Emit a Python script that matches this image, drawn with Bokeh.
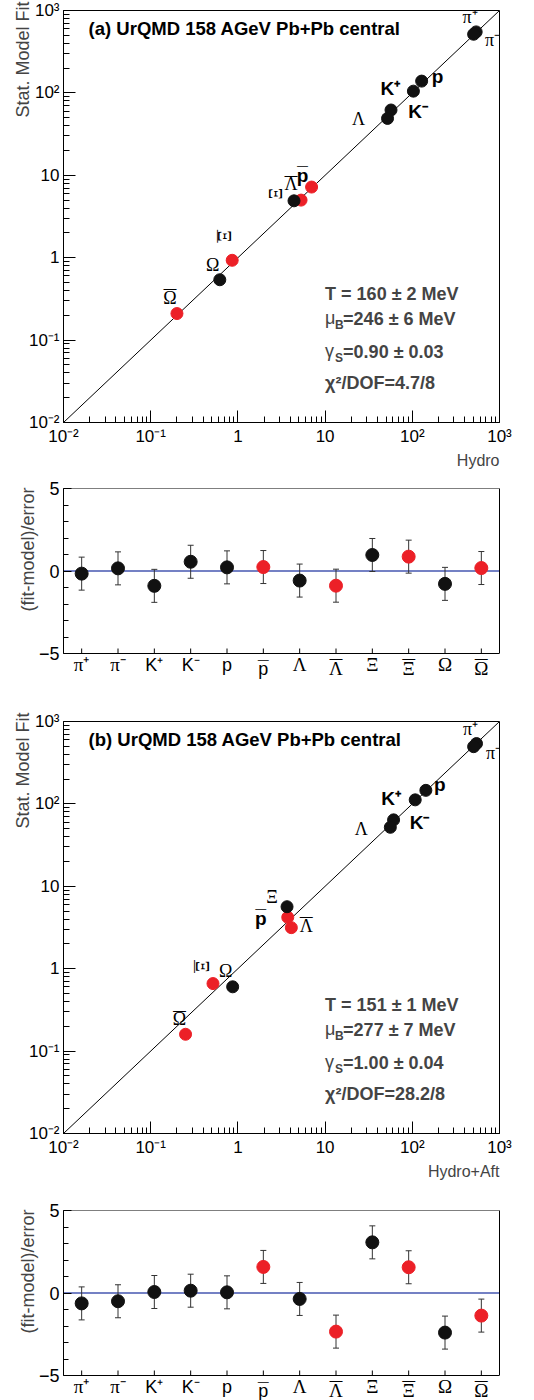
import math
from bokeh.plotting import figure
from bokeh.models import (FixedTicker, Label, Title, ColumnDataSource, FactorRange, Span,
                          LinearAxis)
from bokeh.layouts import column
from bokeh.embed import file_html
from bokeh.resources import INLINE

# ---------------- data ----------------
categories = ["π⁺", "π⁻", "K⁺", "K⁻", "p", "p̅", "Λ", "Λ̅", "Ξ", "Ξ̅", "Ω", "Ω̅"]
antiparticle = [False, False, False, False, False, True, False, True, False, True, False, True]

hydro_a = [540, 505, 103, 57, 128, 7.0, 52, 5.3, 4.4, 0.86, 0.62, 0.20]
fit_a = [550, 515, 105, 62, 139, 7.2, 49, 5.0, 4.9, 0.93, 0.54, 0.21]
hydro_b = [545, 505, 108, 61, 143, 3.73, 56, 4.1, 3.66, 0.518, 0.871, 0.251]
fit_b = [540, 495, 112, 64, 146, 4.2, 52, 3.15, 5.65, 0.66, 0.603, 0.16]

resid_a = [-0.16, 0.16, -0.90, 0.56, 0.22, 0.24, -0.58, -0.89, 0.97, 0.87, -0.78, 0.18]
err_a = [1.0, 1.0, 1.0, 1.0, 1.0, 1.0, 1.0, 1.0, 1.0, 1.0, 1.0, 1.0]
resid_b = [-0.63, -0.50, 0.06, 0.14, 0.04, 1.58, -0.36, -2.34, 3.07, 1.56, -2.40, -1.37]
err_b = [1.0, 1.0, 1.0, 1.0, 1.0, 1.0, 1.0, 1.0, 1.0, 1.0, 1.0, 1.0]

titles = ["(a) UrQMD 158 AGeV Pb+Pb central", "(b) UrQMD 158 AGeV Pb+Pb central"]
xlabels = ["Hydro", "Hydro+Aft"]
T_text = ["T = 160 ± 2 MeV", "T = 151 ± 1 MeV"]
muB_text = ["=246 ± 6 MeV", "=277 ± 7 MeV"]
gS_text = ["=0.90 ± 0.03", "=1.00 ± 0.04"]
chi_text = ["χ²/DOF=4.7/8", "χ²/DOF=28.2/8"]

log_ticks = [0.01, 0.1, 1, 10, 100, 1000]
log_tick_labels = ["10⁻²", "10⁻¹", "1", "10", "10²", "10³"]
resid_ticks = [-5, 0, 5]

# ---------------- styling ----------------
RED = "#ec2027"
BLACK = "#111111"
BLUE = "#4657b0"
SANS = "Liberation Sans"
SERIF = "Liberation Serif"
OVER = "\u0305"
BAR = "\u2014"

base_text = [c.replace(OVER, "") for c in categories]
has_bar = [OVER in c for c in categories]
is_greek = [c[0] in "πΛΞΩ" for c in base_text]

lab_font = [SERIF if g else SANS for g in is_greek]
lab_style = ["normal" if g else "bold" for g in is_greek]
lab_size = ["18px" if g else "19px" for g in is_greek]
bar_size = ["13px" if g else "11px" for g in is_greek]
bar_lift = [9 if g else 10 for g in is_greek]

# pixel offsets (right, up) and rotations of point labels
off_a = [(-6, 15), (19, -6), (-23, 3), (27, -1), (16, 5), (-9, 12), (-29, -1), (-10, 16), (-18, 7), (-7, 24), (-7, 15), (-7, 16)]
rot_a = [0, 0, 0, 0, 0, 0, 0, 0, math.pi / 2, math.pi / 2, 0, 0]
off_b = [(-6, 15), (20, -6), (-24, 1), (26, -3), (14, 6), (-27, -1), (-29, -2), (15, 2), (-15, 10), (-10, 17), (-7, 16), (-6, 15)]
rot_b = [0, 0, 0, 0, 0, 0, 0, 0, 0, math.pi / 2, 0, 0]

colors = [RED if a else BLACK for a in antiparticle]
minor_log = [k * 10.0 ** e for e in range(-2, 3) for k in range(2, 10)]

RESID_FRAME_PX = 165  # pixel height of the -5..5 residual frame


def make_title(text, side_size, standoff, offset):
    try:
        return Title(text=text, align="right", text_font=SANS, text_font_style="normal",
                     text_font_size=side_size, standoff=standoff, offset=offset)
    except Exception:
        return Title(text=text, align="right", text_font=SANS, text_font_style="normal",
                     text_font_size=side_size, standoff=0, offset=0)


def style_axis(ax):
    ax.axis_line_color = "black"
    ax.major_tick_line_color = "black"
    ax.minor_tick_line_color = "black"
    ax.major_tick_out = 0
    ax.minor_tick_out = 0
    ax.major_label_text_font = SANS
    ax.major_label_text_font_size = "17px"
    ax.major_label_text_color = "black"
    ax.major_label_standoff = 4


def style_common(p):
    p.xgrid.visible = False
    p.ygrid.visible = False
    p.background_fill_color = "white"
    p.border_fill_color = "white"
    for ax in list(p.xaxis) + list(p.yaxis):
        style_axis(ax)


def scatter_panel(idx, hx, fy, offs, rots, min_top, height, min_bottom):
    p = figure(width=534, height=height, x_axis_type="log", y_axis_type="log",
               x_range=(log_ticks[0], log_ticks[-1]), y_range=(log_ticks[0], log_ticks[-1]),
               output_backend="svg", toolbar_location=None,
               min_border_left=63, min_border_right=35, min_border_top=min_top,
               min_border_bottom=min_bottom)
    style_common(p)
    p.outline_line_color = "black"
    for ax in (p.xaxis[0], p.yaxis[0]):
        ax.ticker = FixedTicker(ticks=log_ticks, minor_ticks=minor_log)
        ax.major_label_overrides = {t: l for t, l in zip(log_ticks, log_tick_labels)}
        ax.major_tick_in = 12
        ax.minor_tick_in = 6
    p.line([log_ticks[0], log_ticks[-1]], [log_ticks[0], log_ticks[-1]], line_color="black", line_width=1)
    p.scatter(hx, fy, size=12, color=colors, line_color=colors)
    src = ColumnDataSource(dict(
        x=hx, y=fy, text=base_text,
        xo=[o[0] for o in offs], yo=[-o[1] for o in offs],
        font=lab_font, style=lab_style, size=lab_size, angle=rots))
    p.text(x="x", y="y", text="text", x_offset="xo", y_offset="yo", angle="angle",
           text_font="font", text_font_style="style", text_font_size="size",
           text_align="center", text_baseline="middle", text_color="black", source=src)
    # overline bars for antiparticle labels
    bx, by, bxo, byo, bsz, bang = [], [], [], [], [], []
    for i in range(len(categories)):
        if not has_bar[i]:
            continue
        bx.append(hx[i]); by.append(fy[i]); bsz.append(bar_size[i]); bang.append(rots[i])
        if rots[i]:
            bxo.append(offs[i][0] - bar_lift[i]); byo.append(-offs[i][1])
        else:
            bxo.append(offs[i][0]); byo.append(-offs[i][1] - bar_lift[i])
    bsrc = ColumnDataSource(dict(x=bx, y=by, xo=bxo, yo=byo, size=bsz, angle=bang, text=[BAR] * len(bx)))
    p.text(x="x", y="y", text="text", x_offset="xo", y_offset="yo", angle="angle",
           text_font_size="size", text_align="center", text_baseline="middle",
           text_color="black", source=bsrc)
    # title inside frame
    p.add_layout(Label(x=0.0194, y=600, text=titles[idx], text_font=SANS, text_font_style="bold",
                       text_font_size="18.5px", text_baseline="middle", text_color="black"))
    # fit parameter block
    x0 = 10
    ys = [0.365, 0.182, 0.071, 0.0298]
    p.add_layout(Label(x=x0, y=ys[0], text=T_text[idx], text_font=SANS, text_font_style="bold",
                       text_font_size="18px", text_baseline="middle"))
    p.add_layout(Label(x=x0, y=ys[1], text="μ", text_font=SANS, text_font_size="18px",
                       text_baseline="middle", y_offset=1))
    p.add_layout(Label(x=x0, y=ys[1], x_offset=10, y_offset=-6, text="B", text_font=SANS,
                       text_font_style="bold", text_font_size="12px", text_baseline="middle"))
    p.add_layout(Label(x=x0, y=ys[1], x_offset=18, text=muB_text[idx], text_font=SANS,
                       text_font_style="bold", text_font_size="18px", text_baseline="middle"))
    p.add_layout(Label(x=x0, y=ys[2], text="γ", text_font=SANS, text_font_size="18px",
                       text_baseline="middle", y_offset=1))
    p.add_layout(Label(x=x0, y=ys[2], x_offset=10, y_offset=-6, text="S", text_font=SANS,
                       text_font_style="bold", text_font_size="12px", text_baseline="middle"))
    p.add_layout(Label(x=x0, y=ys[2], x_offset=18, text=gS_text[idx], text_font=SANS,
                       text_font_style="bold", text_font_size="18px", text_baseline="middle"))
    p.add_layout(Label(x=x0, y=ys[3], text=chi_text[idx], text_font=SANS, text_font_style="bold",
                       text_font_size="18px", text_baseline="middle"))
    p.add_layout(make_title(xlabels[idx], "16px", 2, 0), "below")
    p.add_layout(make_title("Stat. Model Fit", "18px", -14, -9), "left")
    return p


def resid_panel(res, err, min_top, height):
    lo_lim, hi_lim = resid_ticks[0], resid_ticks[-1]
    frame_px = height - min_top
    units = (hi_lim - lo_lim) * frame_px / RESID_FRAME_PX
    p = figure(width=534, height=height, x_range=FactorRange(*categories),
               y_range=(hi_lim - units, hi_lim), x_axis_location=None,
               output_backend="svg", toolbar_location=None,
               min_border_left=63, min_border_right=35, min_border_top=min_top,
               min_border_bottom=0)
    style_common(p)
    p.outline_line_color = None
    yax = p.yaxis[0]
    yax.ticker = FixedTicker(ticks=resid_ticks, minor_ticks=list(range(lo_lim, hi_lim + 1)))
    yax.bounds = (lo_lim, hi_lim)
    yax.major_tick_in = 8
    yax.minor_tick_in = 5
    yax.major_label_text_font_size = "18px"
    # right, top and bottom frame edges
    rax = LinearAxis(ticker=FixedTicker(ticks=[]), bounds=(lo_lim, hi_lim), major_tick_in=0,
                     major_tick_out=0, minor_tick_in=0, minor_tick_out=0, axis_line_color="black")
    p.add_layout(rax, "right")
    p.add_layout(Span(location=hi_lim, dimension="width", line_color="black", line_width=1))
    p.add_layout(Span(location=lo_lim, dimension="width", line_color="black", line_width=1))
    # inward category ticks on the bottom edge
    p.ray(x=categories, y=[lo_lim] * len(categories), length=5, length_units="screen",
          angle=math.pi / 2, line_color="black", line_width=1)
    span = Span(location=0, dimension="width", line_color=BLUE, line_width=1.3, level="underlay")
    p.add_layout(span)
    lo = [r - e for r, e in zip(res, err)]
    hi = [r + e for r, e in zip(res, err)]
    p.segment(x0=categories, y0=lo, x1=categories, y1=hi, line_color="#333333", line_width=1)
    p.scatter(x=categories, y=lo, marker="dash", size=6, line_color="#333333", line_width=1)
    p.scatter(x=categories, y=hi, marker="dash", size=6, line_color="#333333", line_width=1)
    p.scatter(x=categories, y=res, size=13, color=colors, line_color=colors)
    # category labels (serif Greek, sans Latin) with overline bars for antiparticles
    src = ColumnDataSource(dict(
        x=categories, y=[lo_lim] * len(categories), text=base_text,
        yo=[15 if b else 11 for b in has_bar],
        font=lab_font, size=["19px" if g else "18px" for g in is_greek]))
    p.text(x="x", y="y", text="text", y_offset="yo", source=src,
           text_font="font", text_font_size="size", text_align="center",
           text_baseline="middle", text_color="black")
    bcats = [c for c, b in zip(categories, has_bar) if b]
    bsz = [sz for sz, b in zip(bar_size, has_bar) if b]
    bsrc = ColumnDataSource(dict(x=bcats, y=[lo_lim] * len(bcats), text=[BAR] * len(bcats), size=bsz))
    p.text(x="x", y="y", text="text", y_offset=5, source=bsrc,
           text_font_size="size", text_align="center", text_baseline="middle",
           text_color="black")
    p.add_layout(make_title("(fit-model)/error", "18px", -5, -1), "left")
    return p


p1 = scatter_panel(0, hydro_a, fit_a, off_a, rot_a, 10, 470, 48)
p2 = resid_panel(resid_a, err_a, 18, 230)
p3 = scatter_panel(1, hydro_b, fit_b, off_b, rot_b, 21, 480, 46)
p4 = resid_panel(resid_b, err_b, 30, 220)

layout = column(p1, p2, p3, p4, spacing=0)
open("out.html", "w").write(file_html(layout, INLINE))
